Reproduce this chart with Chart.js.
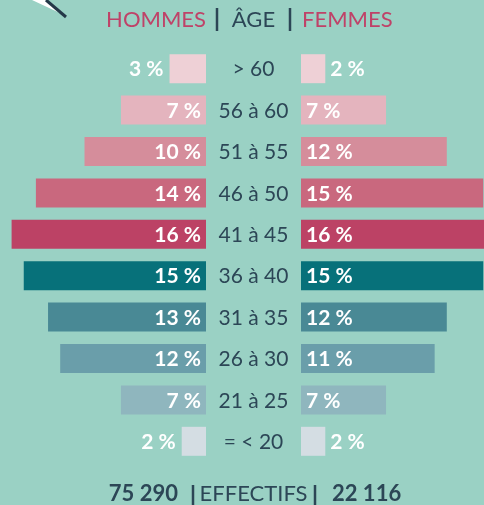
<!DOCTYPE html>
<html lang="fr">
<head>
<meta charset="utf-8">
<title>Pyramide des âges</title>
<script src="https://cdn.jsdelivr.net/npm/chart.js@4"></script>
<style>
  html, body { margin: 0; padding: 0; background: #9ad1c4; }
  #chart-container { width: 484px; height: 505px; position: relative; }
</style>
</head>
<body>
<div id="chart-container"><canvas id="pyramide"></canvas></div>
<script>
// tranches d'âge, du haut vers le bas
const ages = ["> 60", "56 à 60", "51 à 55", "46 à 50", "41 à 45", "36 à 40", "31 à 35", "26 à 30", "21 à 25", "= < 20"];
const hommes = [3, 7, 10, 14, 16, 15, 13, 12, 7, 2];
const femmes = [2, 7, 12, 15, 16, 15, 12, 11, 7, 2];
const couleurs = ["#eed0d6", "#e4b4be", "#d58d9b", "#c9687e", "#bc4265", "#07717a", "#498995", "#6a9eaa", "#8fb6be", "#d4dde3"];
const effectifHommes = "75 290";
const effectifFemmes = "22 116";

const FONT = "Lato";
const DARK = "#2c4656";
const PINK = "#bf4268";
const PX_PER_PCT = 12.15;

const etiquettes = {
  id: "etiquettes",
  afterDatasetsDraw(chart) {
    const ctx = chart.ctx;
    const yScale = chart.scales.y;
    const mid = chart.scales.xM;
    const cx = (mid.left + mid.right) / 2;
    ctx.save();
    ctx.textBaseline = "middle";

    // valeurs en %
    ctx.font = "bold 21px " + FONT;
    ctx.fillStyle = "#ffffff";
    chart.data.datasets.forEach((ds, di) => {
      const meta = chart.getDatasetMeta(di);
      const gauche = ds.xAxisID === "xL";
      meta.data.forEach((bar, i) => {
        const txt = ds.data[i] + " %";
        const w = Math.abs(bar.x - bar.base);
        const inside = w > 50;
        if (gauche) {
          ctx.textAlign = "right";
          ctx.fillText(txt, inside ? bar.base - 5 : bar.x - 6, bar.y + 1);
        } else {
          ctx.textAlign = "left";
          ctx.fillText(txt, inside ? bar.base + 5 : bar.x + 5, bar.y + 1);
        }
      });
    });

    // tranches d'âge
    ctx.font = "21px " + FONT;
    ctx.fillStyle = DARK;
    ctx.textAlign = "center";
    ages.forEach((a, i) => {
      ctx.fillText(a, cx, yScale.getPixelForValue(i) + 1);
    });
    ctx.restore();
  },
  afterDraw(chart) {
    const ctx = chart.ctx;
    const xL = chart.scales.xL, xR = chart.scales.xR, xM = chart.scales.xM;
    const cx = (xM.left + xM.right) / 2;
    ctx.save();
    ctx.textBaseline = "middle";

    const pipe = (x, y1, y2) => {
      ctx.strokeStyle = DARK;
      ctx.lineWidth = 2.5;
      ctx.beginPath();
      ctx.moveTo(x, y1);
      ctx.lineTo(x, y2);
      ctx.stroke();
    };

    // en-tête
    ctx.font = "22px " + FONT;
    ctx.fillStyle = PINK;
    ctx.textAlign = "right";
    ctx.fillText("HOMMES", xL.right, 20);
    ctx.textAlign = "left";
    ctx.fillText("FEMMES", xR.left + 1, 20);
    ctx.fillStyle = DARK;
    ctx.textAlign = "center";
    ctx.fillText("ÂGE", cx, 20);
    pipe(217, 8, 31);
    pipe(290, 8, 31);

    // pied
    ctx.font = "bold 22px " + FONT;
    ctx.textAlign = "right";
    ctx.fillText(effectifHommes, 178, 494);
    ctx.textAlign = "left";
    ctx.fillText(effectifFemmes, 332, 494);
    ctx.font = "22px " + FONT;
    ctx.textAlign = "center";
    ctx.fillText("EFFECTIFS", cx, 494);
    pipe(193, 485, 505);
    pipe(315, 485, 505);

    // flèche décorative en haut à gauche
    ctx.fillStyle = "#ffffff";
    ctx.beginPath();
    ctx.moveTo(32, 0);
    ctx.lineTo(47, 0);
    ctx.lineTo(62, 14);
    ctx.closePath();
    ctx.fill();
    ctx.strokeStyle = "#243848";
    ctx.lineWidth = 3;
    ctx.beginPath();
    ctx.moveTo(46, 0);
    ctx.lineTo(66, 17);
    ctx.stroke();
    ctx.restore();
  }
};

const ctx = document.getElementById("pyramide").getContext("2d");
new Chart(ctx, {
  type: "bar",
  data: {
    labels: ages,
    datasets: [
      { label: "Hommes", data: hommes, backgroundColor: couleurs, xAxisID: "xL", yAxisID: "y", grouped: false },
      { label: "Femmes", data: femmes, backgroundColor: couleurs, xAxisID: "xR", yAxisID: "y", grouped: false }
    ]
  },
  options: {
    indexAxis: "y",
    responsive: true,
    maintainAspectRatio: false,
    animation: false,
    layout: { padding: { top: 48, bottom: 43, left: 0, right: 0 } },
    datasets: { bar: { barPercentage: 0.7, categoryPercentage: 1, borderWidth: 0 } },
    plugins: { legend: { display: false }, tooltip: { enabled: false } },
    scales: {
      y: { type: "category", display: false, offset: true },
      xL: { type: "linear", position: "bottom", stack: "rangee", stackWeight: 206, reverse: true, min: 0, max: 206 / PX_PER_PCT, display: false },
      xM: { type: "linear", position: "bottom", stack: "rangee", stackWeight: 95, min: 0, max: 1, display: false },
      xR: { type: "linear", position: "bottom", stack: "rangee", stackWeight: 183, min: 0, max: 183 / PX_PER_PCT, display: false }
    }
  },
  plugins: [etiquettes]
});
</script>
</body>
</html>
